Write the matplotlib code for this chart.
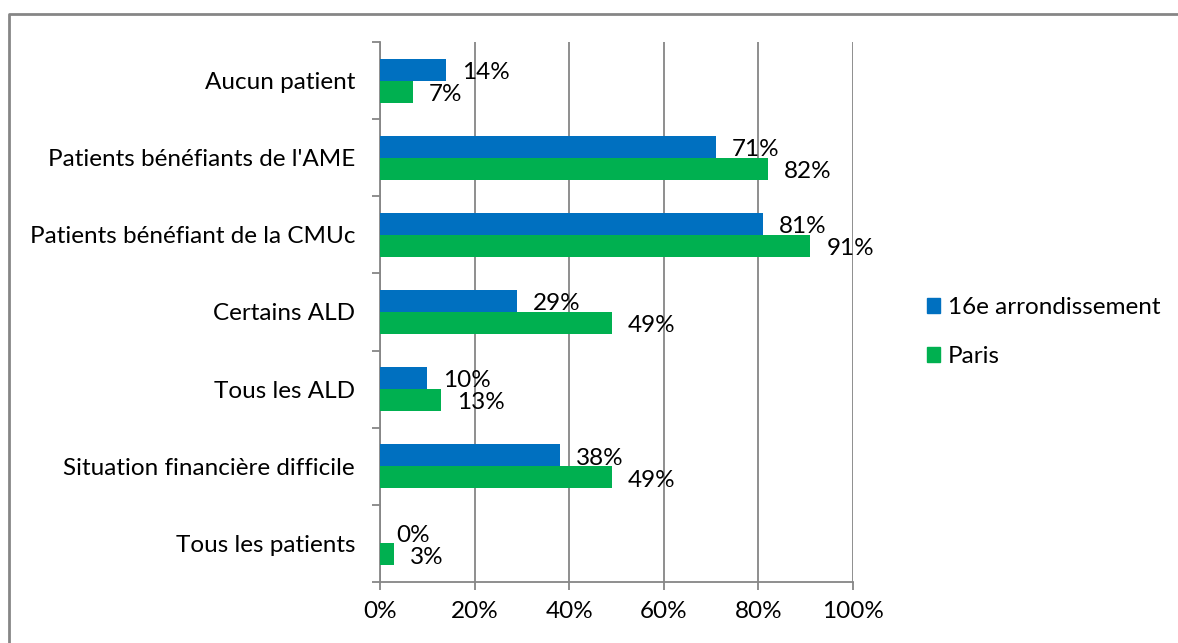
import matplotlib.pyplot as plt
import numpy as np
from matplotlib.lines import Line2D

plt.rcParams['font.family'] = ['Lato', 'DejaVu Sans']

categories = ["Aucun patient", "Patients bénéfiants de l'AME",
              "Patients bénéfiant de la CMUc", "Certains ALD",
              "Tous les ALD", "Situation financière difficile",
              "Tous les patients"]
arr16 = [14, 71, 81, 29, 10, 38, 0]
paris = [7, 82, 91, 49, 13, 49, 3]
series_names = ["16e arrondissement", "Paris"]
xticks = [0, 20, 40, 60, 80, 100]

blue = "#0070C0"
green = "#00B050"
grey = "#868686"
fs = 17.5

fig = plt.figure(figsize=(11.78, 6.43), dpi=100)
ax = fig.add_axes([380 / 1178, 1 - 582 / 643, 473 / 1178, 540 / 643])

y = np.arange(len(categories))
h = 0.286
ax.barh(y - h / 2, arr16, height=h, color=blue, label=series_names[0], zorder=3)
ax.barh(y + h / 2, paris, height=h, color=green, label=series_names[1], zorder=3)

for yi, v in zip(y - h / 2, arr16):
    ax.annotate(f"{v}%", (v, yi), xytext=(11.5, -2), textcoords="offset points",
                va="center", ha="left", fontsize=fs)
for yi, v in zip(y + h / 2, paris):
    ax.annotate(f"{v}%", (v, yi), xytext=(11.5, -2), textcoords="offset points",
                va="center", ha="left", fontsize=fs)

ax.set_xlim(0, 100)
ax.set_ylim(len(categories) - 0.5, -0.5)
ax.set_xticks(xticks)
ax.set_xticklabels([f"{t}%" for t in xticks], fontsize=fs)
ax.set_yticks(y)
ax.set_yticklabels(categories, fontsize=fs)
ax.set_yticks(np.arange(len(categories) + 1) - 0.5, minor=True)
ax.tick_params(axis="y", which="major", length=0, pad=18)
ax.tick_params(axis="y", which="minor", length=6, color=grey, width=1.3)
ax.tick_params(axis="x", length=6, color=grey, width=1.3, pad=8)
ax.grid(axis="x", color=grey, linewidth=1.3, zorder=0)
for s in ["top", "right"]:
    ax.spines[s].set_visible(False)
for s in ["left", "bottom"]:
    ax.spines[s].set_color(grey)
    ax.spines[s].set_linewidth(1.3)

handles = [plt.Rectangle((0, 0), 1, 1, color=blue), plt.Rectangle((0, 0), 1, 1, color=green)]
fig.legend(handles, series_names, loc="center left", bbox_to_anchor=(905 / 1178, 1 - 332 / 643),
           frameon=False, fontsize=fs, handlelength=0.55, handleheight=0.55,
           handletextpad=0.3, labelspacing=1.15)

# outer chart border (top and left edges visible)
fig.add_artist(Line2D([9 / 1178, 9 / 1178, 1], [0, 1 - 14 / 643, 1 - 14 / 643],
                      transform=fig.transFigure, color=grey, linewidth=2))

fig.savefig("out.png", dpi=100)
